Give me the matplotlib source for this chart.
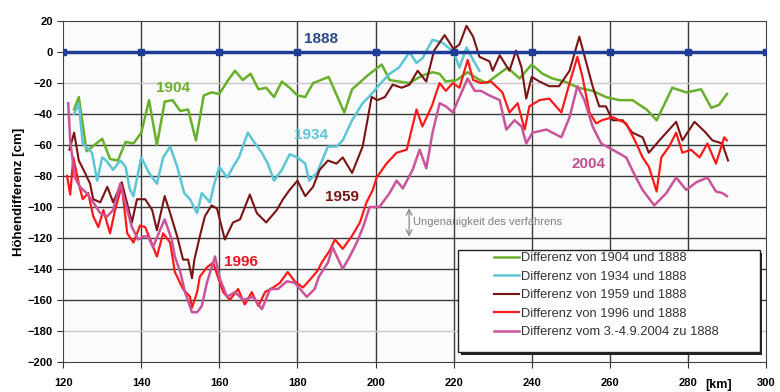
import matplotlib.pyplot as plt
from matplotlib.patches import Rectangle

plt.rcParams['font.family'] = ['Liberation Sans', 'DejaVu Sans']

# Kilometer 120 - 300, Höhendifferenz gegenüber 1888 [cm]
km_1888 = [120, 140, 160, 180, 200, 220, 240, 260, 280, 300]
d_1888 = [0, 0, 0, 0, 0, 0, 0, 0, 0, 0]

km_1904 = [122.8, 124, 126, 130, 132, 134, 136, 138, 140, 142, 144, 146, 148, 150, 152, 154,
           156, 158, 160, 162, 164, 166, 168, 170, 172, 174, 176, 178, 180, 182, 184, 188,
           192, 194, 198, 201.6, 203.6, 206, 208.7, 212, 214.6, 216.4, 218, 220.8, 223.6,
           226, 228.4, 233.8, 236.9, 240, 242.8, 245.3, 248.4, 252, 255.6, 259, 262.4,
           265.8, 269.4, 272, 274.5, 276, 279.6, 283.4, 286, 288, 290]
d_1904 = [-37, -29, -64, -56, -69, -70, -58, -59, -52, -31, -60, -32, -31, -38, -37, -57,
          -28, -26, -27, -19, -12, -18, -14, -24, -23, -29, -19, -23, -28, -29, -20, -16,
          -39, -24, -15, -8, -18, -19, -20, -15, -13, -14, -19, -18, -13,
          -17, -20, -10, -17, -8, -14, -17, -19, -23, -25, -29, -31,
          -31, -37, -44, -31, -23, -26, -24, -36, -34, -27]

km_1934 = [122.8, 124, 125, 126.2, 127.4, 128.7, 130, 131, 132.8, 134.6, 136, 137, 138, 140,
           142, 144, 145.6, 147.4, 149.2, 151, 152.5, 154.3, 155.5, 157.6, 158.6, 160, 162,
           164, 165, 167.3, 168.6, 170.9, 172.4, 174, 176, 178, 180, 182, 183, 185, 187.8,
           190, 191.6, 194, 196.7, 199, 201, 203.6, 206, 208.7, 210.5, 212, 214.6, 217.2,
           220, 221.5, 223.3, 225, 226.6]
d_1934 = [-40, -33, -59, -62, -65, -83, -68, -70, -76, -70, -74, -88, -93, -68,
          -78, -85, -68, -61, -74, -91, -95, -104, -91, -97, -86, -74, -81,
          -72, -68, -52, -57, -65, -72, -83, -76, -66, -68, -72, -83, -78, -61,
          -61, -57, -44, -33, -27, -21, -14, -10, 0, -7, -4, 8, 6,
          0, -10, 3, -5, -12]

km_1959 = [121.6, 122.8, 124, 125.6, 126.9, 127.7, 129.5, 131.3, 132.8, 135, 136.6, 137.6,
           138.9, 141, 142.8, 144, 146, 147.4, 149.2, 150.7, 152, 153, 153.6, 155, 156.3,
           158, 159.4, 161.4, 163.5, 165.3, 167.8, 169.6, 172, 174.7, 176.3, 178, 180, 182,
           184, 185.7, 187.8, 190, 191.6, 194, 196.7, 199, 200.5, 202.4, 204.4, 206.7,
           208.7, 210.8, 213, 215, 217.7, 220, 221.5, 223.3, 225, 226.6, 229.2, 230, 231.8,
           234.3, 236, 237.4, 238.6, 240, 242, 244.5, 247, 249.7, 252.2, 254, 255.6, 257.3,
           259, 260.7, 263.3, 265.8, 268.4, 270, 272.7, 274.5, 277, 278.6, 281.7, 284.2,
           286.3, 288.8, 290.3]
d_1959 = [-63, -52, -70, -78, -85, -95, -97, -87, -97, -84, -100, -110,
          -95, -95, -102, -115, -93, -104, -119, -134, -134, -146, -134, -119, -106,
          -99, -101, -121, -110, -108, -92, -104, -110, -102, -95, -89, -83, -93,
          -87, -76, -70, -72, -68, -78, -61, -29, -31, -29, -21, -23,
          -21, -12, -19, 1, 11, 2, 5, 17, 10, -3, -6, -12, -2,
          -12, 1, -10, -30, -16, -19, -22, -22, -12, 10, -7, -22, -35,
          -35, -44, -44, -52, -55, -65, -57, -52, -45, -57, -45, -51,
          -57, -59, -70]

km_1996 = [121, 121.8, 122.6, 124, 125, 126.4, 127.7, 129, 130.3, 132, 133.3, 135, 136.4,
           138, 139.7, 141, 142.3, 144, 145.6, 147.4, 148.6, 150.7, 152.5, 153, 154.3, 155,
           156.8, 158.4, 159.6, 161, 162.7, 164.8, 166.5, 168.3, 170, 171.7, 173.8, 175.5,
           177.5, 179.3, 181.4, 183.2, 185.2, 186.2, 188.3, 189.6, 191.6, 193.9, 196, 197.7,
           199.3, 200.3, 202.8, 205.4, 208, 210.5, 212, 214.4, 216.4, 218, 219.8, 221.5,
           223.6, 225, 227, 229.6, 232.5, 234.3, 236.4, 238.2, 239.4, 242, 244.5, 247.6,
           249.7, 251.7, 253, 254.8, 256.5, 258, 260.7, 264.2, 266.8, 268.4, 270, 272,
           273.2, 275.2, 277, 278.6, 280.8, 283, 285, 287.2, 289.3, 290]
d_1996 = [-80, -92, -68, -85, -95, -91, -106, -113, -102, -117, -102, -86, -117,
          -123, -112, -113, -121, -132, -117, -123, -142, -153, -158, -165, -155, -145,
          -139, -136, -145, -155, -160, -153, -163, -155, -164, -155, -152, -149,
          -142, -148, -152, -147, -141, -136, -128, -121, -127, -119, -110, -97,
          -89, -81, -72, -65, -63, -37, -48, -35, -20, -25, -20, -23,
          -5, -18, -20, -19, -26, -39, -33, -50, -35, -31, -30, -39,
          -20, -3, -16, -39, -46, -44, -42, -46, -59, -68, -74, -90,
          -68, -61, -52, -65, -63, -68, -59, -72, -55, -57]

km_2004 = [121.3, 121.8, 123, 124.3, 126, 127.7, 129.5, 131.3, 132.8, 134.6, 136.4, 137.6,
           139.2, 140.5, 141.7, 143, 144.8, 146, 147.8, 148.6, 150, 151.2, 153, 154.3, 155.5,
           156.8, 158.9, 160.2, 162, 164, 166.1, 168.6, 170.9, 173, 175, 177.3, 179.3, 182.4,
           184.4, 185.5, 187.8, 189, 191.6, 193.4, 195.2, 196.8, 198.5, 201, 203.6, 205.4,
           207, 209.5, 211.3, 213, 214.6, 216.4, 218, 219.8, 221.5, 223.6, 225.4, 227,
           229.2, 231.8, 233.5, 235.6, 237.4, 238.6, 240.2, 243.8, 247.6, 249.7, 251.7,
           253.5, 255.6, 257.8, 260.7, 264.2, 266.5, 268.4, 271.4, 274.5, 277, 279.6,
           282.2, 285, 287.2, 288.8, 290]
d_2004 = [-33, -57, -81, -87, -91, -97, -104, -106, -102, -85, -102, -113,
          -121, -119, -119, -126, -115, -108, -121, -132, -142, -155, -168, -168, -164,
          -149, -132, -147, -158, -155, -160, -158, -166, -153, -153, -148, -149, -158,
          -153, -145, -136, -126, -140, -132, -123, -113, -100, -100, -91, -83,
          -88, -76, -63, -75, -52, -33, -35, -39, -29, -17, -25, -25,
          -28, -31, -50, -44, -48, -59, -52, -50, -55, -42, -22,
          -31, -48, -59, -63, -68, -80, -89, -99, -91, -81, -89,
          -84, -81, -90, -91, -93]

series = [
    (km_1904, d_1904, '#68b02c', 1.8, 'Differenz von 1904 und 1888'),
    (km_1934, d_1934, '#5cc6d6', 1.8, 'Differenz von 1934 und 1888'),
    (km_1959, d_1959, '#7a1414', 1.5, 'Differenz von 1959 und 1888'),
    (km_1996, d_1996, '#ff1a1a', 1.6, 'Differenz von 1996 und 1888'),
    (km_2004, d_2004, '#c9549a', 1.8, 'Differenz vom 3.-4.9.2004 zu 1888'),
]

fig = plt.figure(figsize=(7.8, 3.92), dpi=100)
ax = fig.add_axes([0.081, 0.077, 0.901, 0.869])
ax.set_facecolor('#fbfbfb')

# gitter
for x in range(140, 300, 20):
    ax.axvline(x, color='#3a3a3a', lw=1.0, zorder=1)
for y in range(-180, 20, 20):
    if y == 0:
        continue
    c = '#c8c8c8' if y in (-20, -180) else '#3a3a3a'
    ax.axhline(y, color=c, lw=1.0, zorder=1)

handles = []
for km, d, col, lw, lab in series:
    h, = ax.plot(km, d, color=col, lw=lw, label=lab, zorder=3)
    handles.append(h)

ax.plot(km_1888, d_1888, color='#1f3d96', lw=2.5, marker='s', ms=4, zorder=4)

ax.set_xlim(120, 300)
ax.set_ylim(-200, 20)
ax.set_xticks(range(120, 301, 20))
ax.set_xticklabels([str(v) for v in range(120, 300, 20)] + ['300'])
ax.set_yticks(range(-200, 21, 20))
ax.tick_params(labelsize=8, length=4, color='#333333')
ax.tick_params(axis='x', pad=8)
for t in ax.get_xticklabels() + ax.get_yticklabels():
    t.set_fontweight('bold')
for s in ax.spines.values():
    s.set_color('#444444')
ax.set_ylabel('Höhendifferenz [cm]', fontsize=9.5, fontweight='bold', labelpad=2)
ax.text(0.932, -0.05, '[km]', transform=ax.transAxes, fontsize=9, fontweight='bold',
        ha='center', va='top')

# beschriftungen
ax.text(186, 4, '1888', color='#2a4a8a', fontsize=11, fontweight='bold', ha='center', va='bottom')
ax.text(148, -26, '1904', color='#68b02c', fontsize=11, fontweight='bold', ha='center')
ax.text(183.5, -56, '1934', color='#5cc6d6', fontsize=11, fontweight='bold', ha='center')
ax.text(191.5, -96, '1959', color='#7a1414', fontsize=11, fontweight='bold', ha='center')
ax.text(165.5, -138, '1996', color='#e8141e', fontsize=11, fontweight='bold', ha='center')
ax.text(254.5, -75, '2004', color='#c05090', fontsize=11, fontweight='bold', ha='center')

ax.annotate('', xy=(208.6, -99), xytext=(208.6, -121),
            arrowprops=dict(arrowstyle='<->', color='#888888', lw=0.9))
ax.text(209.5, -110, 'Ungenauigkeit des verfahrens', color='#808080', fontsize=8,
        va='center', ha='left', zorder=5)

# legendenkasten mit schatten
ax.add_patch(Rectangle((0.566, 0.020), 0.429, 0.299, transform=ax.transAxes,
                       facecolor='#222222', edgecolor='none', zorder=6, clip_on=False))
ax.add_patch(Rectangle((0.562, 0.029), 0.429, 0.299, transform=ax.transAxes,
                       facecolor='white', edgecolor='#222222', lw=1.0, zorder=6.5,
                       clip_on=False))
leg = ax.legend(handles=handles, loc='upper left', bbox_to_anchor=(0.6125, 0.322),
                fontsize=9.3, frameon=False, handlelength=2.0, handletextpad=0.1,
                borderpad=0, labelspacing=0.5, borderaxespad=0)
leg.set_zorder(7)
for t in leg.get_texts():
    t.set_color('#333333')

fig.savefig('out.png', dpi=100, facecolor='white')
